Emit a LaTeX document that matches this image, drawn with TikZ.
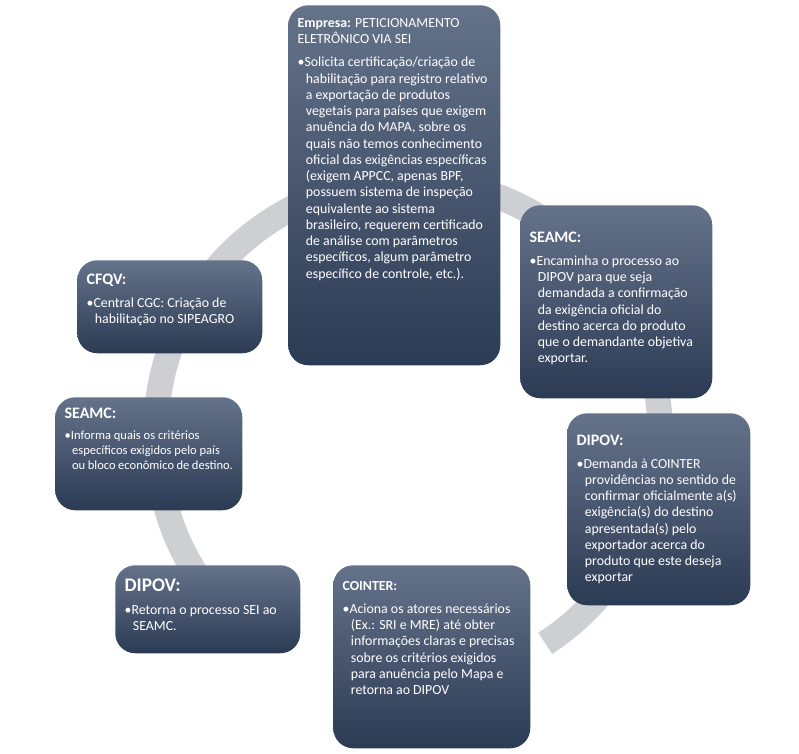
\documentclass[tikz,border=0pt]{standalone}
\usepackage{fontspec}
\setmainfont{Carlito}
\usetikzlibrary{arrows.meta,positioning}
\newcommand{\bitem}[1]{\par\vspace{5pt}\hangindent=0.6em\hangafter=1\textbullet#1}
% box content: width, height (px), text
\newcommand{\boxtext}[3]{\parbox[t][\dimexpr#2\dimexpr0.75pt\relax-12pt\relax][t]{\dimexpr#1\dimexpr0.75pt\relax-14pt\relax}{\raggedright\hyphenpenalty=10000\exhyphenpenalty=10000 #3}}
\begin{document}
\begin{tikzpicture}[x=0.75pt,y=-0.75pt,
  stepbox/.style={rounded corners=15pt,top color=gbtop,bottom color=gbbot,
    draw=none,text=white,anchor=north west,inner xsep=7pt,inner ysep=6pt,
    font=\fontsize{10.4pt}{12.2pt}\selectfont},
  ring/.style={line width=19pt,draw=ringgray}]
\definecolor{gbtop}{HTML}{64738A}
\definecolor{gbbot}{HTML}{2C3B54}
\definecolor{ringgray}{HTML}{CDCFD2}
\useasboundingbox (0,0) rectangle (799,753);
% cycle
\coordinate (ctr) at (408,432);
\draw[ring,-{Triangle[width=36pt,length=20pt]}] (ctr) ++(100:-252) arc[start angle=-80,end angle=-233,radius=252];
\draw[ring] (ctr) ++(57:252) arc[start angle=57,end angle=-80,radius=252];
% boxes
\node[stepbox] (empresa) at (288,5)
 {\boxtext{212}{360}{\vspace{4pt}\textbf{Empresa:} PETICIONAMENTO ELETRÔNICO VIA SEI
 \bitem{Solicita certificação/criação de habilitação para registro relativo a exportação de produtos vegetais para países que exigem anuência do MAPA, sobre os quais não temos conhecimento oficial das exigências específicas (exigem APPCC, apenas BPF, possuem sistema de inspeção equivalente ao sistema brasileiro, requerem certificado de análise com parâmetros específicos, algum parâmetro específico de controle, etc.).}}};
\node[stepbox] (seamcR) at (520,205)
 {\boxtext{192}{193}{\vspace{14pt}{\large\bfseries SEAMC:}
 \bitem{Encaminha o processo ao DIPOV para que seja demandada a confirmação da exigência oficial do destino acerca do produto que o demandante objetiva exportar.}}};
\node[stepbox] (dipovR) at (567,413)
 {\boxtext{183}{192}{\vspace{10pt}{\large\bfseries DIPOV:}
 \bitem{Demanda à COINTER providências no sentido de confirmar oficialmente a(s) exigência(s) do destino apresentada(s) pelo exportador acerca do produto que este deseja exportar}}};
\node[stepbox] (cointer) at (333,565)
 {\boxtext{197}{183}{\vspace{6pt}{\bfseries COINTER:}
 \bitem{Aciona os atores necessários (Ex.: SRI e MRE) até obter informações claras e precisas sobre os critérios exigidos para anuência pelo Mapa e retorna ao DIPOV}}};
\node[stepbox] (dipovL) at (115,565)
 {\boxtext{185}{88}{\vspace{4pt}{\Large\bfseries DIPOV:}
 \bitem{Retorna o processo SEI ao SEAMC.}}};
\node[stepbox,font=\fontsize{9.4pt}{11pt}\selectfont] (seamcL) at (55,397)
 {\boxtext{187}{113}{\vspace{2pt}{\large\bfseries SEAMC:}
 \bitem{Informa quais os critérios específicos  exigidos pelo país ou bloco econômico de destino.}}};
\node[stepbox] (cfqv) at (77,260)
 {\boxtext{185}{93}{\vspace{4pt}{\large\bfseries CFQV:}
 \bitem{Central CGC: Criação de habilitação no SIPEAGRO}}};
\end{tikzpicture}
\end{document}
